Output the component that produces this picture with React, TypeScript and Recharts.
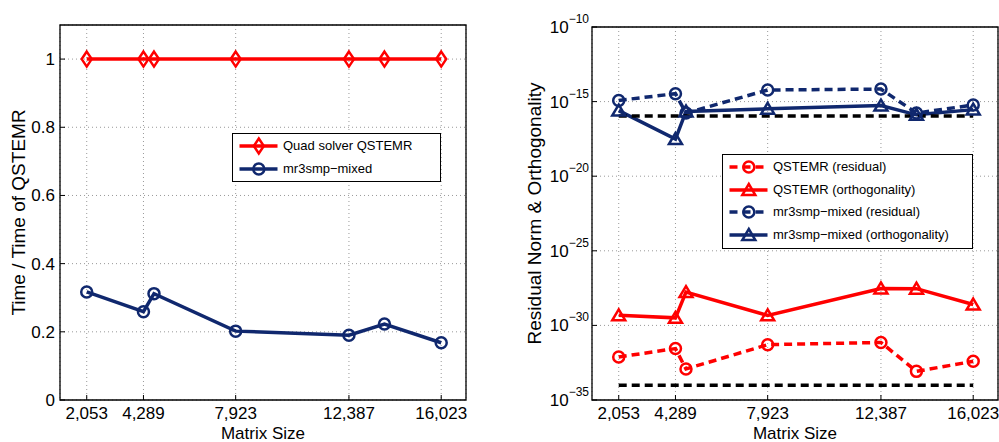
import {
  CartesianGrid,
  Legend,
  Line,
  LineChart,
  ReferenceArea,
  ReferenceLine,
  XAxis,
  YAxis,
} from 'recharts'

// Matrix sizes (x positions), incl. the two unlabeled ones
const matrixSizes = [2053, 4289, 4704, 7923, 12387, 13786, 16023]
const sizeTicks = [2053, 4289, 7923, 12387, 16023]

// Left panel: time relative to QSTEMR
const quadTime = [1, 1, 1, 1, 1, 1, 1]
const mixedTime = [0.317, 0.259, 0.312, 0.202, 0.19, 0.223, 0.168]
const timeTicks = [0, 0.2, 0.4, 0.6, 0.8, 1]

// Right panel: residual norm & orthogonality (log scale)
const qstemrResidual = [7.6e-33, 2.8e-32, 1.2e-33, 5.1e-32, 7.2e-32, 8.3e-34, 3.9e-33]
const qstemrOrtho = [4.7e-30, 3.2e-30, 1.7e-28, 4.7e-30, 3.0e-28, 2.9e-28, 2.5e-29]
const mixedResidual = [1.2e-15, 3.4e-15, 1.7e-16, 6.0e-15, 6.9e-15, 1.7e-16, 5.9e-16]
const mixedOrtho = [2.5e-16, 3.1e-18, 2.2e-16, 3.3e-16, 5.4e-16, 1.3e-16, 2.9e-16]
const doubleEps = 1.1e-16
const quadEps = 9.6e-35
const accExponents = [-35, -30, -25, -20, -15, -10]

const RED = '#ff0000'
const BLUE = '#10286e'
const FONT = '"Liberation Sans", Arial, Helvetica, sans-serif'

type MarkerKind = 'diamond' | 'circle' | 'triangle'

// Hollow MATLAB-style markers; line stays visible through them
function Marker({ kind, cx, cy, color }: { kind: MarkerKind; cx: number; cy: number; color: string }) {
  const common = { fill: 'none', stroke: color, strokeWidth: 2.5 }
  if (kind === 'diamond') {
    return <path d={`M${cx},${cy - 7.5}L${cx + 5},${cy}L${cx},${cy + 7.5}L${cx - 5},${cy}Z`} {...common} />
  }
  if (kind === 'circle') return <circle cx={cx} cy={cy} r={5.5} {...common} />
  return <path d={`M${cx},${cy - 6}L${cx + 6.5},${cy + 5}L${cx - 6.5},${cy + 5}Z`} {...common} />
}

function dotOf(kind: MarkerKind, color: string) {
  return (p: any) => (
    <Marker key={`m${p.index}`} kind={kind} cx={p.cx} cy={p.cy} color={color} />
  )
}

type LegendItem = { label: string; color: string; dash?: string; marker: MarkerKind }

function LegendBox({ items }: { items: LegendItem[] }) {
  return (
    <div
      style={{
        border: '1.5px solid #000',
        background: '#fff',
        padding: '1px 0',
        boxSizing: 'border-box',
        width: '100%',
        height: '100%',
        fontFamily: FONT,
      }}
    >
      {items.map((it) => (
        <div key={it.label} style={{ display: 'flex', alignItems: 'center', height: 22.6 }}>
          <svg width={50} height={20} style={{ flex: 'none' }}>
            <line x1={6.5} x2={44.5} y1={10} y2={10} stroke={it.color} strokeWidth={3.5} strokeDasharray={it.dash} />
            <Marker kind={it.marker} cx={25.8} cy={10} color={it.color} />
          </svg>
          <span style={{ fontSize: 13, color: '#000', lineHeight: '16px', whiteSpace: 'nowrap' }}>{it.label}</span>
        </div>
      ))}
    </div>
  )
}

const timeLegend: LegendItem[] = [
  { label: 'Quad solver QSTEMR', color: RED, marker: 'diamond' },
  { label: 'mr3smp\u2212mixed', color: BLUE, marker: 'circle' },
]

const accLegend: LegendItem[] = [
  { label: 'QSTEMR (residual)', color: RED, dash: '8 5', marker: 'circle' },
  { label: 'QSTEMR (orthogonality)', color: RED, marker: 'triangle' },
  { label: 'mr3smp\u2212mixed (residual)', color: BLUE, dash: '8 5', marker: 'circle' },
  { label: 'mr3smp\u2212mixed (orthogonality)', color: BLUE, marker: 'triangle' },
]

// Rotated y-axis title, baseline at a fixed x
function yTitle(text: string, x: number) {
  return (props: any) => {
    const vb = props.viewBox
    const cy = vb.y + vb.height / 2
    return (
      <text x={x} y={cy} transform={`rotate(-90, ${x}, ${cy})`} textAnchor="middle" fontSize={19} fill="#000">
        {text}
      </text>
    )
  }
}

// 10^n tick label with superscript exponent
function PowerTick(props: any) {
  const { x, y, payload } = props
  const exp = Math.round(Math.log10(payload.value))
  return (
    <text x={x} y={y} dy={6} textAnchor="end" fill="#000" fontSize={17}>
      10
      <tspan dy={-10} fontSize={12}>{`\u2212${Math.abs(exp)}`}</tspan>
    </text>
  )
}

const fmtSize = (v: number) => v.toLocaleString('en-US')

export default function App() {
  const timeRows = matrixSizes.map((n, i) => ({ n, quad: quadTime[i], mixed: mixedTime[i] }))
  const accRows = matrixSizes.map((n, i) => ({
    n,
    qRes: qstemrResidual[i],
    qOrt: qstemrOrtho[i],
    mRes: mixedResidual[i],
    mOrt: mixedOrtho[i],
  }))
  const accTicks = accExponents.map((e) => Math.pow(10, e))

  return (
    <div style={{ display: 'flex', width: 999, height: 442, background: '#fff', fontFamily: FONT }}>
      <style>{'body{margin:0}'}</style>

      <LineChart width={500} height={442} data={timeRows} margin={{ top: 25, right: 34, left: 0, bottom: 0 }}>
        <CartesianGrid stroke="#999" strokeDasharray="1 3" />
        <XAxis
          dataKey="n"
          type="number"
          domain={[1000, 17000]}
          ticks={sizeTicks}
          interval={0}
          allowDataOverflow
          tickFormatter={fmtSize}
          height={42}
          axisLine={false}
          tickSize={-5}
          tickMargin={12}
          tickLine={{ stroke: '#000' }}
          tick={{ fill: '#000', fontSize: 17 }}
          label={{ value: 'Matrix Size', position: 'insideBottom', offset: 3.5, fill: '#000', fontSize: 17 }}
        />
        <YAxis
          type="number"
          domain={[0, 1.1]}
          ticks={timeTicks}
          interval={0}
          allowDataOverflow
          width={60}
          axisLine={false}
          tickSize={-5}
          tickMargin={10}
          tickLine={{ stroke: '#000' }}
          tick={{ fill: '#000', fontSize: 17 }}
          tickFormatter={(v: number) => String(v)}
          label={yTitle('Time / Time of QSTEMR', 25)}
        />
        <ReferenceArea x1={1000} x2={17000} y1={0} y2={1.1} fill="none" stroke="#000" strokeWidth={1.3} ifOverflow="visible" />
        <Line dataKey="quad" stroke={RED} strokeWidth={3.5} dot={dotOf('diamond', RED)} activeDot={false} isAnimationActive={false} />
        <Line dataKey="mixed" stroke={BLUE} strokeWidth={3.5} dot={dotOf('circle', BLUE)} activeDot={false} isAnimationActive={false} />
        <Legend
          layout="vertical"
          align="center"
          verticalAlign="middle"
          content={() => <LegendBox items={timeLegend} />}
          wrapperStyle={{ left: 232, top: 133, width: 209, height: 49 }}
        />
      </LineChart>

      <LineChart width={499} height={442} data={accRows} margin={{ top: 27, right: 1, left: 0, bottom: 0 }}>
        <CartesianGrid stroke="#999" strokeDasharray="1 3" />
        <XAxis
          dataKey="n"
          type="number"
          domain={[1000, 17000]}
          ticks={sizeTicks}
          interval={0}
          allowDataOverflow
          tickFormatter={fmtSize}
          height={42}
          axisLine={false}
          tickSize={-5}
          tickMargin={12}
          tickLine={{ stroke: '#000' }}
          tick={{ fill: '#000', fontSize: 17 }}
          label={{ value: 'Matrix Size', position: 'insideBottom', offset: 3.5, fill: '#000', fontSize: 17 }}
        />
        <YAxis
          type="number"
          scale="log"
          domain={[1e-35, 1e-10]}
          ticks={accTicks}
          interval={0}
          allowDataOverflow
          width={92}
          axisLine={false}
          tickSize={-5}
          tickMargin={8}
          tickLine={{ stroke: '#000' }}
          tick={<PowerTick />}
          label={yTitle('Residual Norm & Orthogonality', 41)}
        />
        <ReferenceArea x1={1000} x2={17000} y1={1e-35} y2={1e-10} fill="none" stroke="#000" strokeWidth={1.3} ifOverflow="visible" />
        <Line dataKey="qRes" stroke={RED} strokeWidth={3.5} strokeDasharray="8 5" dot={dotOf('circle', RED)} activeDot={false} isAnimationActive={false} />
        <Line dataKey="qOrt" stroke={RED} strokeWidth={3.5} dot={dotOf('triangle', RED)} activeDot={false} isAnimationActive={false} />
        <Line dataKey="mRes" stroke={BLUE} strokeWidth={3.5} strokeDasharray="8 5" dot={dotOf('circle', BLUE)} activeDot={false} isAnimationActive={false} />
        <Line dataKey="mOrt" stroke={BLUE} strokeWidth={3.5} dot={dotOf('triangle', BLUE)} activeDot={false} isAnimationActive={false} />
        <ReferenceLine
          segment={[{ x: 2053, y: doubleEps }, { x: 16023, y: doubleEps }]}
          stroke="#000"
          strokeWidth={3.5}
          strokeDasharray="8 5"
          ifOverflow="visible"
        />
        <ReferenceLine
          segment={[{ x: 2053, y: quadEps }, { x: 16023, y: quadEps }]}
          stroke="#000"
          strokeWidth={3.5}
          strokeDasharray="8 5"
          ifOverflow="visible"
        />
        <Legend
          layout="vertical"
          align="center"
          verticalAlign="middle"
          content={() => <LegendBox items={accLegend} />}
          wrapperStyle={{ left: 222, top: 154, width: 251, height: 95 }}
        />
      </LineChart>
    </div>
  )
}
